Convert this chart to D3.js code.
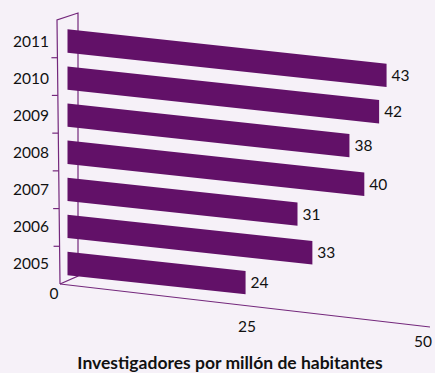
<!DOCTYPE html>
<html>
<head>
<meta charset="utf-8">
<script src="https://cdn.jsdelivr.net/npm/d3@7"></script>
<style>
  html, body { margin: 0; padding: 0; background: #f6f1f8; }
  svg { display: block; }
  text { font-family: Lato, "Open Sans", sans-serif; fill: #111; }
</style>
</head>
<body>
<svg id="chart" width="435" height="373"></svg>
<script>
// Researchers per million inhabitants, by year
const years = ["2011", "2010", "2009", "2008", "2007", "2006", "2005"];
const values = [43, 42, 38, 40, 31, 33, 24];
const valueTicks = [0, 25, 50];
const axisTitle = "Investigadores por millón de habitantes";

const barColor = "#621168";
const lineColor = "#74287c";

const svg = d3.select("#chart");

// --- oblique "3-D" projection built from scales ---
// bar plane (mid depth of the plot box)
const xBar = d3.scaleLinear().domain([0, 50]).range([67.5, 438.5]);
const dropBar = d3.scaleLinear().domain([0, 50]).range([0, 40]);   // value axis sinks to the right
const yBar = d3.scaleBand().domain(years).range([22.5, 282]).paddingInner(0.37).paddingOuter(0.185);

// front edge of the floor
const xFront = d3.scaleLinear().domain([0, 50]).range([60, 430]);
const dropFront = d3.scaleLinear().domain([0, 50]).range([284, 327]);

// category boundaries on the front and back edges of the side wall
const yWallFront = d3.scaleBand().domain(years).range([20, 284]);
const yWallBack = d3.scaleBand().domain(years).range([13, 276]);
const xWallFront = d3.scaleLinear().domain([20, 284]).range([57, 60]);
const xWallBack = 78;

// positions of the value-axis labels under the floor edge
const tickLabelX = d3.scaleLinear().domain(valueTicks).range([54, 247, 423]);
const tickLabelY = d3.scaleLinear().domain(valueTicks).range([293.5, 326, 341.5]);

const frame = svg.append("g")
  .attr("fill", "none")
  .attr("stroke", lineColor)
  .attr("stroke-width", 1.2);

const wallTopF = yWallFront.range()[0], wallBotF = yWallFront.range()[1];
const wallTopB = yWallBack.range()[0], wallBotB = yWallBack.range()[1];

// side wall outline
frame.append("path").attr("d", d3.line()([
  [xWallFront(wallBotF), wallBotF],
  [xWallFront(wallTopF), wallTopF],
  [xWallBack, wallTopB],
  [xWallBack, wallBotB],
  [xWallFront(wallBotF), wallBotF]
]));

// floor front edge
frame.append("path").attr("d", d3.line()([
  [xFront(0), dropFront(0)],
  [xFront(50), dropFront(50)]
]));

// category tick marks on the wall's front edge
years.slice(1).forEach(y => {
  const ty = yWallFront(y);
  const tx = xWallFront(ty);
  frame.append("line")
    .attr("x1", tx - 6).attr("x2", tx)
    .attr("y1", ty).attr("y2", ty);
});

// bars as flat parallelograms on the mid plane
const data = years.map((y, i) => ({ year: y, value: values[i] }));

svg.append("g").selectAll("path")
  .data(data)
  .join("path")
  .attr("fill", barColor)
  .attr("d", d => {
    const top = yBar(d.year), h = yBar.bandwidth();
    const x0 = xBar(0), x1 = xBar(d.value);
    const dy = dropBar(d.value) - dropBar(0);
    return d3.line()([
      [x0, top], [x1, top + dy], [x1, top + dy + h], [x0, top + h]
    ]) + "Z";
  });

// value labels at the end of each bar
svg.append("g").selectAll("text")
  .data(data)
  .join("text")
  .attr("x", d => xBar(d.value) + 5)
  .attr("y", d => yBar(d.year) + yBar.bandwidth() / 2 + dropBar(d.value))
  .attr("dy", "0.36em")
  .attr("font-size", 15.5)
  .text(d => d.value);

// category labels
svg.append("g").selectAll("text")
  .data(years)
  .join("text")
  .attr("x", 49)
  .attr("y", d => yBar(d) + yBar.bandwidth() / 2)
  .attr("dy", "0.36em")
  .attr("text-anchor", "end")
  .attr("font-size", 15.5)
  .text(d => d);

// value axis labels
svg.append("g").selectAll("text")
  .data(valueTicks)
  .join("text")
  .attr("x", d => tickLabelX(d))
  .attr("y", d => tickLabelY(d))
  .attr("dy", "0.36em")
  .attr("text-anchor", "middle")
  .attr("font-size", 15.5)
  .text(d => d);

// axis title
svg.append("text")
  .attr("x", 230)
  .attr("y", 363)
  .attr("dy", "0.36em")
  .attr("text-anchor", "middle")
  .attr("font-size", 17.5)
  .attr("font-weight", "bold")
  .text(axisTitle);
</script>
</body>
</html>
